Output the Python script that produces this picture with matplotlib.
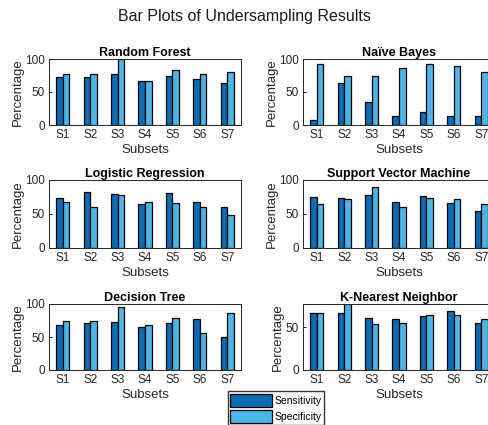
import numpy as np
import matplotlib
matplotlib.use("Agg")
import matplotlib.pyplot as plt

plt.rcParams['font.family'] = ['Liberation Sans', 'DejaVu Sans']

subsets = ["S1", "S2", "S3", "S4", "S5", "S6", "S7"]

rf_sens = [72, 73, 78, 67, 75, 69, 63]
rf_spec = [77, 78, 100, 67, 84, 78, 80]

nb_sens = [8, 63, 35, 14, 19, 14, 14]
nb_spec = [92, 75, 74, 87, 92, 89, 80]

lr_sens = [73, 82, 79, 64, 81, 67, 61]
lr_spec = [67, 61, 78, 67, 66, 61, 49]

svm_sens = [75, 73, 78, 67, 76, 66, 55]
svm_spec = [64, 72, 90, 60, 73, 72, 64]

dt_sens = [68, 71, 73, 65, 71, 77, 50]
dt_spec = [74, 74, 96, 68, 79, 56, 87]

knn_sens = [67, 67, 61, 59, 63, 69, 55]
knn_spec = [67, 77, 54, 55, 64, 64, 59]

panels = [
    ("Random Forest", rf_sens, rf_spec),
    ("Naïve Bayes", nb_sens, nb_spec),
    ("Logistic Regression", lr_sens, lr_spec),
    ("Support Vector Machine", svm_sens, svm_spec),
    ("Decision Tree", dt_sens, dt_spec),
    ("K-Nearest Neighbor", knn_sens, knn_spec),
]

W, H = 488, 425
fig = plt.figure(figsize=(W / 100, H / 100), dpi=100)

# axes boxes in pixels: (left, top, right, bottom)
col_x = [(49, 241), (303, 495)]
row_y = [(59, 125), (180, 248), (304, 370)]

c_sens = "#0a6cb4"
c_spec = "#4db6e8"
x = np.arange(1, len(subsets) + 1)
bw = 0.24

for i, (name, sens, spec) in enumerate(panels):
    r, c = divmod(i, 2)
    x0, x1 = col_x[c]
    y0, y1 = row_y[r]
    ax = fig.add_axes([x0 / W, 1 - y1 / H, (x1 - x0) / W, (y1 - y0) / H])
    b1 = ax.bar(x - bw / 2, sens, bw, color=c_sens, edgecolor="black", linewidth=0.9, label="Sensitivity")
    b2 = ax.bar(x + bw / 2, spec, bw, color=c_spec, edgecolor="black", linewidth=0.9, label="Specificity")
    ax.set_xlim(0.5, 7.5)
    if name == "K-Nearest Neighbor":
        ax.set_ylim(0, max(max(sens), max(spec)))
        ax.set_yticks([0, 50])
    else:
        ax.set_ylim(0, 100)
        ax.set_yticks([0, 50, 100])
    ax.set_xticks(x)
    ax.set_xticklabels(subsets)
    ax.tick_params(direction="in", length=2, labelsize=8.5, colors="#262626", pad=3)
    for s in ax.spines.values():
        s.set_color("#262626")
        s.set_linewidth(0.7)
    ax.set_title(name, fontsize=9, fontweight="bold", pad=2)
    ax.set_xlabel("Subsets", fontsize=9.5, color="#262626", labelpad=2)
    ax.set_ylabel("Percentage", fontsize=9.5, color="#262626", labelpad=1)

fig.text(0.5, 1 - 17 / H, "Bar Plots of Undersampling Results", ha="center", va="center",
         fontsize=11.5, color="#1a1a1a")

fig.legend([b1, b2], ["Sensitivity", "Specificity"], loc="lower center",
           bbox_to_anchor=(276 / W, 0), fontsize=7.5, frameon=True, fancybox=False,
           edgecolor="black", handlelength=4, handleheight=1.6, borderpad=0.2,
           labelspacing=0.25, handletextpad=0.3, borderaxespad=0)

fig.savefig("out.png", dpi=100)
